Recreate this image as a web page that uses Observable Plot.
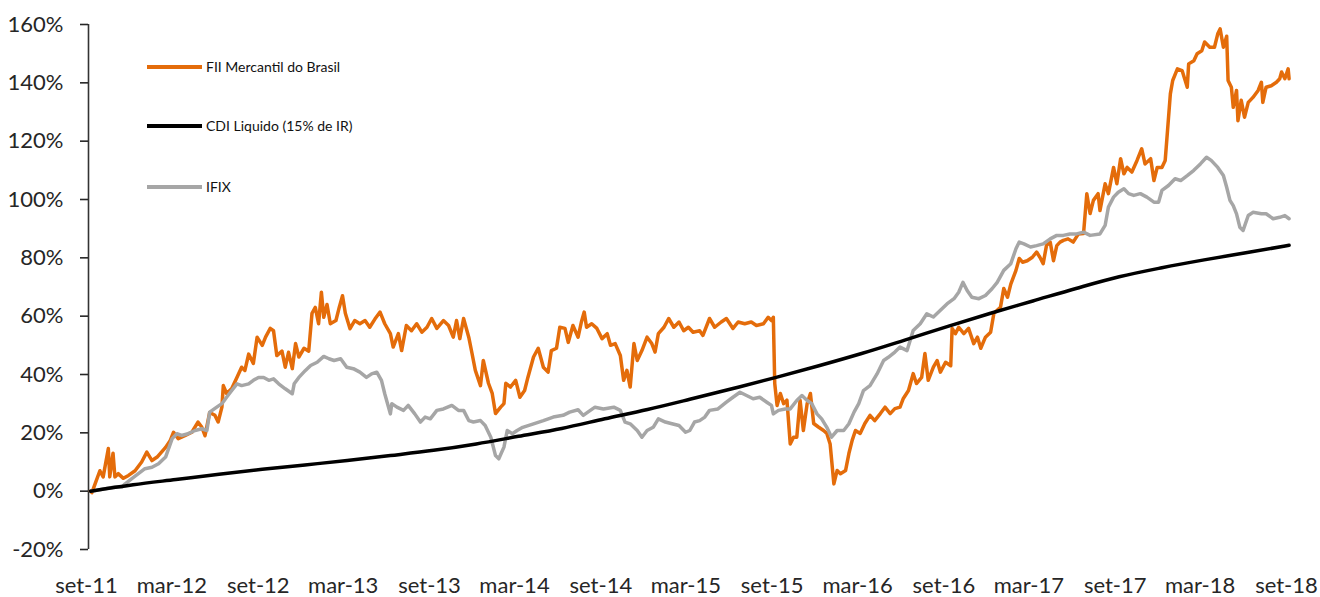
<!DOCTYPE html>
<html>
<head>
<meta charset="utf-8">
<script src="https://cdn.jsdelivr.net/npm/d3@7"></script>
<script src="https://cdn.jsdelivr.net/npm/@observablehq/plot@0.6"></script>
<style>
  body { margin: 0; background: #fff; }
  #wrap { position: relative; width: 1320px; height: 597px; font-family: Lato, "Open Sans", sans-serif; }
  .lg { position: absolute; left: 147px; display: flex; align-items: center; font-size: 14px; color: #111; white-space: nowrap; }
  .lg span.sw { display: inline-block; width: 55px; height: 4px; margin-right: 4px; }
</style>
</head>
<body>
<div id="wrap">
  <div id="chart"></div>
  <div class="lg" style="top:58px"><span class="sw" style="background:#E46C0A"></span>FII Mercantil do Brasil</div>
  <div class="lg" style="top:117px"><span class="sw" style="background:#000"></span>CDI Liquido (15% de IR)</div>
  <div class="lg" style="top:178px"><span class="sw" style="background:#A6A6A6"></span>IFIX</div>
</div>
<script>
const xTicks = ["2011-09-01","2012-03-01","2012-09-01","2013-03-01","2013-09-01","2014-03-01","2014-09-01","2015-03-01","2015-09-01","2016-03-01","2016-09-01","2017-03-01","2017-09-01","2018-03-01","2018-09-01"];
const xTickLabels = ["set-11","mar-12","set-12","mar-13","set-13","mar-14","set-14","mar-15","set-15","mar-16","set-16","mar-17","set-17","mar-18","set-18"];
const yTicks = [-20, 0, 20, 40, 60, 80, 100, 120, 140, 160];

const fii = [["2011-09-01",0],["2011-09-04",-0.5],["2011-09-11",2.6],["2011-09-21",7],["2011-09-28",4.9],["2011-10-09",14.6],["2011-10-12",4.9],["2011-10-19",13],["2011-10-23",4.9],["2011-10-30",6],["2011-11-10",4.4],["2011-11-21",5.4],["2011-12-05",7],["2011-12-19",10],["2011-12-30",13.4],["2012-01-10",10.5],["2012-01-21",11.7],["2012-02-08",15],["2012-02-18",17.4],["2012-02-25",20.2],["2012-03-06",18],["2012-03-20",19],["2012-04-04",20.2],["2012-04-17",23.7],["2012-04-25",22],["2012-05-02",19],["2012-05-12",27],["2012-05-23",26],["2012-05-30",23.7],["2012-06-07",28.8],["2012-06-10",36.2],["2012-06-17",33.5],["2012-06-28",35.2],["2012-07-09",39],["2012-07-19",42.5],["2012-07-26",41.4],["2012-08-03",47],["2012-08-13",43.8],["2012-08-21",52.8],["2012-09-01",50],["2012-09-08",52.8],["2012-09-18",55.8],["2012-09-25",55],["2012-10-02",46.5],["2012-10-13",48],["2012-10-20",42.5],["2012-10-27",47.6],["2012-11-04",42],["2012-11-11",50.6],["2012-11-18",46],["2012-11-29",49],["2012-12-09",48],["2012-12-16",61],["2012-12-23",63],["2012-12-30",57.4],["2013-01-05",68.2],["2013-01-10",59.6],["2013-01-17",64],["2013-01-24",57.4],["2013-02-05",58.5],["2013-02-12",63],["2013-02-19",67],["2013-02-25",61],["2013-03-07",55.7],["2013-03-17",58.5],["2013-03-28",57.4],["2013-04-08",58.5],["2013-04-18",56.2],["2013-04-29",59],["2013-05-10",61.4],["2013-05-20",57.4],["2013-06-01",54],["2013-06-07",49.4],["2013-06-18",54],["2013-06-25",48.2],["2013-07-05",56.8],["2013-07-16",55],["2013-07-27",57.4],["2013-08-07",54.5],["2013-08-18",56.2],["2013-08-28",59.2],["2013-09-08",55.8],["2013-09-22",58.5],["2013-10-03",56.8],["2013-10-13",52.8],["2013-10-20",58.5],["2013-10-27",52.3],["2013-11-04",59.2],["2013-11-15",52.8],["2013-11-22",47.2],["2013-11-29",41.4],["2013-12-10",36.2],["2013-12-16",44.8],["2013-12-27",37],["2014-01-04",33.5],["2014-01-11",26.6],["2014-01-22",28.8],["2014-01-29",30],["2014-02-02",37],["2014-02-12",35.7],["2014-02-23",38],["2014-03-04",32.2],["2014-03-14",34.5],["2014-03-21",39],["2014-04-02",46],["2014-04-12",49],["2014-04-23",42.5],["2014-05-03",40.8],["2014-05-10",48.2],["2014-05-21",49],["2014-05-28",56.2],["2014-06-08",55.8],["2014-06-15",51],["2014-06-25",56.8],["2014-07-06",52.8],["2014-07-13",58],["2014-07-19",61.4],["2014-07-24",56.2],["2014-08-04",57.4],["2014-08-15",55.8],["2014-08-26",52.3],["2014-09-06",54],["2014-09-13",50],["2014-09-23",50.6],["2014-10-04",46.5],["2014-10-11",38],["2014-10-18",41.4],["2014-10-25",35.7],["2014-11-02",50.6],["2014-11-09",44.8],["2014-11-19",48.2],["2014-11-30",52.8],["2014-12-10",50.6],["2014-12-17",47.7],["2014-12-24",54],["2015-01-05",56.2],["2015-01-15",59.2],["2015-01-26",56.2],["2015-02-06",58],["2015-02-16",55],["2015-02-26",56.2],["2015-03-08",54.5],["2015-03-22",55],["2015-03-29",53.4],["2015-04-12",59.2],["2015-04-23",56.2],["2015-05-07",58],["2015-05-18",59.2],["2015-06-01",55.8],["2015-06-12",58],["2015-06-26",57.4],["2015-07-10",58],["2015-07-21",56.8],["2015-08-05",57.4],["2015-08-15",59.6],["2015-08-22",58.5],["2015-08-26",59.6],["2015-08-29",36.9],["2015-09-03",29.4],["2015-09-10",33.5],["2015-09-17",30],["2015-09-24",31.2],["2015-10-01",16.2],["2015-10-08",18.5],["2015-10-15",18.5],["2015-10-22",31.2],["2015-10-29",20.8],["2015-11-06",30],["2015-11-13",33.5],["2015-11-20",23.2],["2015-11-30",22],["2015-12-11",20.8],["2015-12-18",19.8],["2015-12-25",16.2],["2016-01-02",2.5],["2016-01-09",7.1],["2016-01-16",6],["2016-01-27",7.1],["2016-02-03",12.9],["2016-02-10",17.4],["2016-02-17",20.8],["2016-02-27",19.8],["2016-03-08",23.2],["2016-03-19",26],["2016-03-29",24.2],["2016-04-10",26.6],["2016-04-20",28.8],["2016-05-01",26.6],["2016-05-11",28.3],["2016-05-22",28.8],["2016-05-29",31.8],["2016-06-09",34.5],["2016-06-19",40.3],["2016-06-26",36.9],["2016-07-07",39],["2016-07-14",47.2],["2016-07-21",38],["2016-08-01",42.5],["2016-08-09",44.8],["2016-08-16",40.8],["2016-08-27",44.2],["2016-09-07",43],["2016-09-10",55.8],["2016-09-17",54],["2016-09-24",56.2],["2016-10-05",54],["2016-10-15",55.8],["2016-10-26",50.6],["2016-11-03",52.8],["2016-11-10",49],["2016-11-20",52.8],["2016-12-01",54.5],["2016-12-08",61],["2016-12-15",62],["2016-12-22",63],["2016-12-29",69.5],["2017-01-06",66.5],["2017-01-13",71],["2017-01-24",75.7],["2017-01-31",79.8],["2017-02-07",78.5],["2017-02-17",79],["2017-02-28",80.2],["2017-03-09",82],["2017-03-16",80.2],["2017-03-23",78],["2017-03-30",84.2],["2017-04-07",85.4],["2017-04-14",79],["2017-04-21",84.2],["2017-04-28",85.4],["2017-05-05",86],["2017-05-15",86.5],["2017-05-26",85.4],["2017-06-06",88.2],["2017-06-17",88.3],["2017-06-24",102],["2017-07-01",95.2],["2017-07-08",99.7],["2017-07-18",102],["2017-07-22",96.2],["2017-08-02",105.4],["2017-08-09",102],["2017-08-20",111],["2017-08-27",105.4],["2017-09-04",114],["2017-09-11",108.8],["2017-09-18",111],["2017-09-28",109.4],["2017-10-09",113.4],["2017-10-19",117.4],["2017-10-26",112.2],["2017-11-07",114],["2017-11-14",106.5],["2017-11-21",111],["2017-12-01",111],["2017-12-08",113.4],["2017-12-13",123.7],["2017-12-19",136.2],["2017-12-24",140.8],["2018-01-03",144.8],["2018-01-13",144.2],["2018-01-24",138.5],["2018-01-27",146.5],["2018-02-07",147.6],["2018-02-14",150],["2018-02-24",151],["2018-03-02",154],["2018-03-13",152.2],["2018-03-23",152.2],["2018-03-30",156.8],["2018-04-04",158.5],["2018-04-11",152.2],["2018-04-18",156],["2018-04-21",140.8],["2018-04-28",138.5],["2018-05-02",131.6],["2018-05-09",137.4],["2018-05-12",127],["2018-05-19",134],["2018-05-26",128.2],["2018-06-03",133.3],["2018-06-13",135],["2018-06-24",137.4],["2018-07-01",140.2],["2018-07-04",133.3],["2018-07-11",138.5],["2018-07-22",139],["2018-08-02",140.2],["2018-08-09",141.4],["2018-08-13",143.7],["2018-08-20",141.4],["2018-08-27",144.8],["2018-08-29",141.4]];

const ifix = [["2011-09-01",0],["2011-09-11",0.2],["2011-10-02",0.8],["2011-10-23",1.4],["2011-11-07",1.4],["2011-11-14",2.5],["2011-11-28",4.3],["2011-12-12",6],["2011-12-26",7.7],["2012-01-10",8.2],["2012-01-24",9.4],["2012-02-08",11.7],["2012-02-22",18],["2012-03-03",19.7],["2012-03-13",19.1],["2012-03-27",19.7],["2012-04-11",20.8],["2012-04-25",21.4],["2012-05-06",20.8],["2012-05-12",27.1],["2012-05-27",28.8],["2012-06-07",30],["2012-06-17",32.2],["2012-06-28",34.5],["2012-07-09",36.8],["2012-07-19",36.2],["2012-08-03",36.8],["2012-08-13",38],["2012-08-24",39],["2012-09-04",39],["2012-09-15",38],["2012-09-25",38.5],["2012-10-06",36.8],["2012-10-20",35.1],["2012-11-04",33.4],["2012-11-08",36.8],["2012-11-18",39],["2012-12-02",41.4],["2012-12-13",43.1],["2012-12-27",44.2],["2013-01-10",46.2],["2013-01-21",45.4],["2013-02-01",44.8],["2013-02-15",45.4],["2013-02-28",42.5],["2013-03-14",42],["2013-03-28",40.8],["2013-04-11",39],["2013-04-22",40.2],["2013-05-03",40.8],["2013-05-13",38],["2013-05-20",33.4],["2013-06-01",26.5],["2013-06-04",30],["2013-06-15",28.8],["2013-06-29",27.7],["2013-07-09",29.4],["2013-07-23",26.5],["2013-08-04",23.7],["2013-08-14",25.4],["2013-08-25",24.8],["2013-09-08",27.7],["2013-09-22",28.2],["2013-10-10",29.4],["2013-10-24",27.7],["2013-11-04",27.7],["2013-11-15",24.2],["2013-11-25",23.7],["2013-12-10",24.2],["2013-12-20",22.5],["2014-01-01",18.5],["2014-01-11",12.2],["2014-01-18",11.1],["2014-01-29",15.1],["2014-02-05",20.8],["2014-02-16",19.7],["2014-02-26",20.8],["2014-03-10",21.9],["2014-04-02",23.1],["2014-04-23",24.2],["2014-05-14",25.4],["2014-06-04",26],["2014-06-18",27.1],["2014-07-06",27.9],["2014-07-17",26],["2014-08-01",27.7],["2014-08-11",28.8],["2014-08-29",28.2],["2014-09-20",28.8],["2014-10-04",27.7],["2014-10-14",23.7],["2014-10-25",23.1],["2014-11-09",20.8],["2014-11-19",18.5],["2014-11-30",20.8],["2014-12-13",21.9],["2014-12-24",24.8],["2015-01-08",23.7],["2015-01-22",23.1],["2015-02-06",22.5],["2015-02-20",20.2],["2015-03-01",20.8],["2015-03-11",23.7],["2015-03-22",24.2],["2015-04-02",25.4],["2015-04-12",27.7],["2015-04-30",28.2],["2015-05-18",30.5],["2015-06-01",32.2],["2015-06-16",33.9],["2015-06-30",32.8],["2015-07-14",31.7],["2015-07-28",32.2],["2015-08-12",30.5],["2015-08-22",29.4],["2015-08-26",26.5],["2015-09-06",27.7],["2015-09-20",28.2],["2015-10-01",28.2],["2015-10-15",31.1],["2015-10-26",32.8],["2015-11-06",31.1],["2015-11-16",30],["2015-11-27",26.5],["2015-12-07",24.8],["2015-12-18",21.9],["2015-12-28",18.5],["2016-01-09",20.8],["2016-01-23",20.8],["2016-02-03",23.1],["2016-02-14",27.1],["2016-02-24",30],["2016-03-05",34.5],["2016-03-19",36.2],["2016-04-03",40.2],["2016-04-17",44.8],["2016-04-27",45.9],["2016-05-11",47.7],["2016-05-22",49.4],["2016-06-06",48.2],["2016-06-19",55.1],["2016-07-04",57.4],["2016-07-18",60.8],["2016-08-01",59.7],["2016-08-16",62],["2016-08-30",64.2],["2016-09-14",66],["2016-09-24",68.2],["2016-10-03",71.6],["2016-10-12",68.8],["2016-10-22",66.5],["2016-11-06",66],["2016-11-20",67.1],["2016-12-04",69.4],["2016-12-15",71.6],["2016-12-29",75.7],["2017-01-13",78],["2017-01-24",83.1],["2017-01-31",85.4],["2017-02-10",84.8],["2017-02-24",83.7],["2017-03-09",84.2],["2017-03-23",84.8],["2017-04-07",86.5],["2017-04-21",87.7],["2017-05-05",87.7],["2017-05-19",88.2],["2017-06-02",88.2],["2017-06-17",88.8],["2017-07-01",87.7],["2017-07-22",88.2],["2017-08-02",91.1],["2017-08-09",97.4],["2017-08-20",100.8],["2017-08-30",102.5],["2017-09-11",103.7],["2017-09-21",102],["2017-10-02",101.4],["2017-10-16",102],["2017-10-30",100.8],["2017-11-14",99.1],["2017-11-24",99.1],["2017-12-01",103.1],["2017-12-15",104.8],["2017-12-29",107.1],["2018-01-10",106.5],["2018-01-24",108.2],["2018-02-07",110],["2018-02-21",112.2],["2018-03-06",114.5],["2018-03-16",113.4],["2018-03-30",111],["2018-04-11",108.2],["2018-04-18",104.2],["2018-04-25",99.7],["2018-05-02",97.9],["2018-05-09",95.1],["2018-05-16",90.5],["2018-05-23",89.4],["2018-06-03",94.5],["2018-06-13",95.6],["2018-07-01",95.1],["2018-07-11",95.1],["2018-07-26",93.4],["2018-08-09",93.9],["2018-08-20",94.5],["2018-08-29",93.4]];

const cdi = [["2011-09-01",0],["2011-12-01",2.2],["2012-03-01",4.0],["2012-06-01",5.8],["2012-09-01",7.5],["2012-12-01",9.0],["2013-03-01",10.5],["2013-06-01",12.2],["2013-09-01",14.0],["2013-12-01",16.2],["2014-03-01",18.8],["2014-06-01",21.5],["2014-09-01",24.8],["2014-12-01",28.0],["2015-03-01",31.5],["2015-06-01",35.2],["2015-09-01",39.0],["2015-12-01",43.0],["2016-03-01",47.2],["2016-06-01",51.8],["2016-09-01",56.5],["2016-12-01",61.0],["2017-03-01",65.2],["2017-06-01",69.5],["2017-09-01",73.5],["2017-12-01",76.6],["2018-03-01",79.3],["2018-06-01",81.8],["2018-08-29",84.3]];

const parse = d3.utcParse("%Y-%m-%d");
const rows = (arr) => arr.map(([d, v]) => ({date: parse(d), value: v}));
const tickDates = xTicks.map(parse);
const labelOf = new Map(tickDates.map((d, i) => [+d, xTickLabels[i]]));

const chart = Plot.plot({
  width: 1320,
  height: 597,
  marginLeft: 88,
  marginRight: 30,
  marginTop: 24,
  marginBottom: 48,
  style: {fontFamily: "Lato, 'Open Sans', sans-serif", fontSize: "22px", background: "#fff", overflow: "visible"},
  x: {type: "utc", domain: [tickDates[0], tickDates[tickDates.length - 1]], range: [90, 1290], label: null},
  y: {domain: [-20, 160], label: null},
  marks: [
    Plot.ruleX([tickDates[0]], {y1: -20, y2: 160, dx: -2, stroke: "#333", strokeWidth: 1.6}),
    Plot.axisY({ticks: yTicks, tickFormat: d => d + "%", tickSize: 8, tickPadding: 17, color: "#262626", strokeWidth: 1.6, label: null}),
    Plot.axisX({ticks: tickDates, tickFormat: d => labelOf.get(+d), tickSize: 0, tickPadding: 28, color: "#262626", dx: -4, label: null}),
    Plot.line(rows(fii), {x: "date", y: "value", stroke: "#E46C0A", strokeWidth: 3.5}),
    Plot.line(rows(ifix), {x: "date", y: "value", stroke: "#A6A6A6", strokeWidth: 3.5}),
    Plot.line(rows(cdi), {x: "date", y: "value", stroke: "#000", strokeWidth: 3.5, curve: "monotone-x"})
  ]
});
document.getElementById("chart").appendChild(chart);
</script>
</body>
</html>
